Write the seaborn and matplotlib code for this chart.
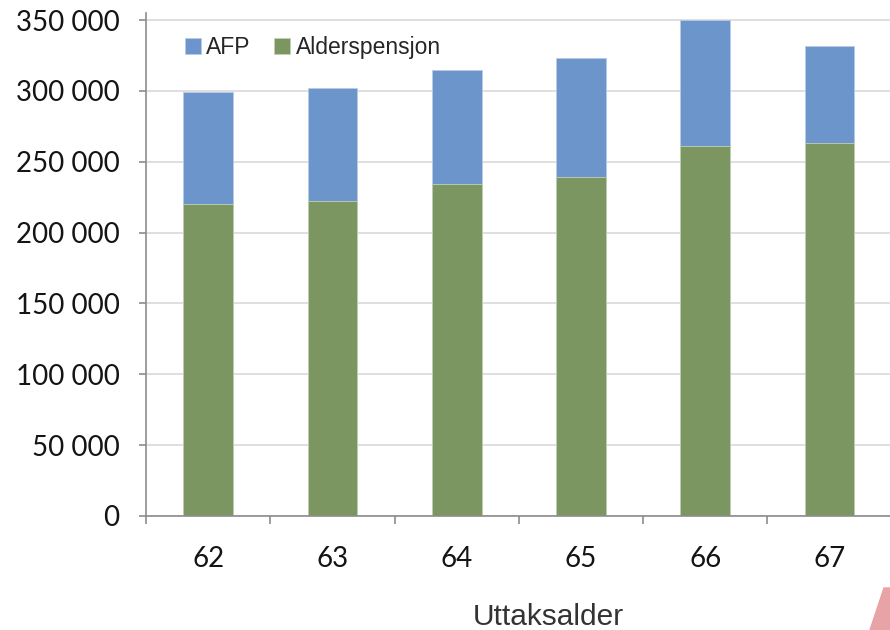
import matplotlib
matplotlib.use('Agg')
import matplotlib.pyplot as plt
import seaborn as sns
import numpy as np
import pandas as pd
from matplotlib.patches import Polygon
from matplotlib.ticker import FuncFormatter, FixedLocator

# Data
ages = ['62', '63', '64', '65', '66', '67']
alderspensjon = [220000, 222000, 234000, 239000, 261000, 263000]
afp = [79000, 80000, 81000, 84000, 89000, 69000]

blue = '#6C95CB'
green = '#7B9660'

df = pd.DataFrame({'age': ages, 'alder': alderspensjon, 'afp': afp})
df['total'] = df['alder'] + df['afp']

sns.set_style('white')
plt.rcParams['font.family'] = ['Lato', 'DejaVu Sans']

fig = plt.figure(figsize=(8.9, 6.3), dpi=100)
ax = fig.add_axes([146 / 890, 1 - 516 / 630, 1 - 146 / 890 + 0.002, (516 - 13) / 630])

# stacked bars: total in blue, alderspensjon drawn on top in green
sns.barplot(data=df, x='age', y='total', color=blue, width=0.4, saturation=1,
            ax=ax, label='AFP', edgecolor='#B8CCE8', linewidth=0.6)
sns.barplot(data=df, x='age', y='alder', color=green, width=0.4, saturation=1,
            ax=ax, label='Alderspensjon', edgecolor='#C4D1B6', linewidth=0.6)

ax.set_ylim(0, 355000)
ax.set_xlim(-0.5, 5.5)
ax.set_yticks(np.arange(0, 350001, 50000))
ax.yaxis.set_major_formatter(FuncFormatter(lambda v, p: f'{int(v):,}'.replace(',', ' ')))
ax.yaxis.grid(True, color='#D9D9D9', linewidth=1.2)
ax.set_axisbelow(True)

for s in ['top', 'right']:
    ax.spines[s].set_visible(False)
for s in ['left', 'bottom']:
    ax.spines[s].set_color('#8C8C8C')
    ax.spines[s].set_linewidth(1.2)

ax.tick_params(axis='y', which='major', left=True, length=5, width=1.2, color='#8C8C8C',
               labelsize=20, labelcolor='#141414', pad=14)
ax.tick_params(axis='x', which='major', bottom=False, labelsize=20, labelcolor='#141414', pad=18)
ax.xaxis.set_minor_locator(FixedLocator(np.arange(-0.5, 6.0, 1.0)))
ax.tick_params(axis='x', which='minor', bottom=True, length=6, width=1.2, color='#8C8C8C')

ax.set_ylabel('')
ax.set_xlabel('Uttaksalder', fontsize=21.5, family=['Liberation Sans', 'DejaVu Sans'],
              color='#333333')
ax.xaxis.set_label_coords((547 - 146) / (890 - 146), -0.172)

leg = ax.legend(loc='upper left', bbox_to_anchor=(0.024, 0.995), ncol=2, frameon=False,
                handlelength=0.7, handleheight=0.7, handletextpad=0.25, columnspacing=1.0,
                prop={'family': ['Liberation Sans', 'DejaVu Sans'], 'size': 16.5})

# pink corner decoration
fig.patches.append(Polygon([[870 / 890, 0.0], [884 / 890, 1 - 588 / 630],
                            [1.0, 1 - 588 / 630], [1.0, 0.0]],
                           closed=True, transform=fig.transFigure, color='#E8A3A6', zorder=0))

plt.savefig('out.png', dpi=100)
